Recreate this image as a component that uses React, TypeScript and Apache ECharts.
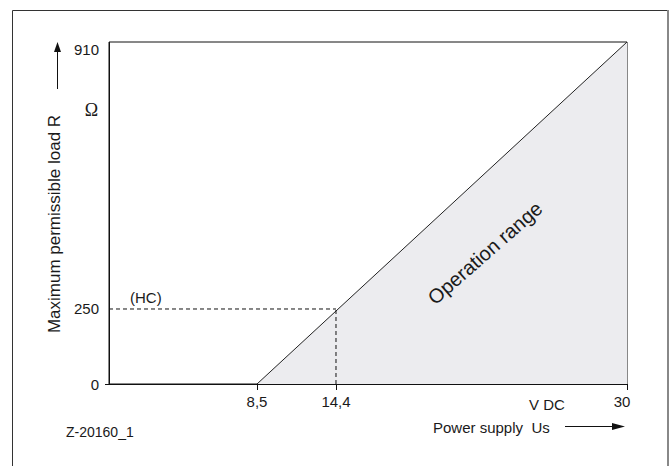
import React, { useEffect, useRef } from "react";
import * as echarts from "echarts";

// ---- data ----
const xTickValues = [8.5, 14.4, 30];
const yTickValues = [0, 250, 910];
const rangeBoundary = [
  [8.5, 0],
  [30, 910],
];
const hcPoint = [14.4, 250];
const xTitle = "Power supply  Us";
const yTitle = "Maximum permissible load R";
const xUnit = "V DC";
const yUnit = "Ω";
const hcLabel = "(HC)";
const areaLabel = "Operation range";
const drawingNo = "Z-20160_1";

const FONT = "'Liberation Sans', Arial, Helvetica, sans-serif";
const INK = "#1a1a1a";

const fmt = (v: number) => String(v).replace(".", ",");

export default function App() {
  const ref = useRef<HTMLDivElement>(null);

  useEffect(() => {
    if (!ref.current) return;
    const chart = echarts.init(ref.current, undefined, { renderer: "svg" });

    const hLine = [
      [0, hcPoint[1]],
      [hcPoint[0], hcPoint[1]],
    ];
    const vLine = [
      [hcPoint[0], 0],
      [hcPoint[0], hcPoint[1]],
    ];

    const option: any = {
      animation: false,
      backgroundColor: "#fff",
      grid: {
        left: 109,
        top: 42,
        right: 45,
        bottom: 82,
        show: true,
        borderColor: "#111",
        borderWidth: 1,
        backgroundColor: "transparent",
      },
      xAxis: {
        type: "value",
        min: 0,
        max: 30,
        breaks: [
          { start: 3, end: 3.566, gap: 0 },
          { start: 10.5, end: 12.165, gap: 0 },
        ],
        breakArea: { show: false },
        splitLine: { show: false },
        axisLine: { show: true, onZero: false, lineStyle: { color: "#111", width: 1 } },
        axisTick: {
          show: true,
          customValues: xTickValues,
          length: 6,
          inside: false,
          lineStyle: { color: "#111", width: 1 },
        },
        axisLabel: {
          customValues: xTickValues,
          margin: 10,
          fontSize: 15,
          fontFamily: FONT,
          color: INK,
          formatter: (v: number) => (v === 30 ? "{r|30}" : fmt(v)),
          rich: {
            r: { fontSize: 15, fontFamily: FONT, color: INK, padding: [0, 10, 0, 0] },
          },
        },
      },
      yAxis: {
        type: "value",
        min: 0,
        max: 910,
        breaks: [{ start: 100, end: 164.6, gap: 0 }],
        breakArea: { show: false },
        splitLine: { show: false },
        axisLine: { show: true, lineStyle: { color: "#111", width: 1 } },
        axisTick: {
          show: true,
          customValues: [0],
          length: 4,
          lineStyle: { color: "#111", width: 1 },
        },
        axisLabel: {
          customValues: yTickValues,
          margin: 10,
          fontSize: 15,
          fontFamily: FONT,
          color: INK,
          formatter: (v: number) => (v === 910 ? "{t|910}" : fmt(v)),
          rich: {
            t: { fontSize: 15, fontFamily: FONT, color: INK, padding: [14, 0, 0, 0] },
          },
        },
        name: yTitle,
        nameLocation: "middle",
        nameRotate: 90,
        nameGap: 40,
        nameTextStyle: { fontSize: 17, fontFamily: FONT, color: INK, padding: [0, 22, 0, 0] },
      },
      series: [
        {
          type: "line",
          name: "Operation range",
          data: rangeBoundary,
          symbol: "none",
          lineStyle: { color: "#222", width: 1 },
          areaStyle: { color: "#ececef", opacity: 1 },
          z: 2,
        },
        {
          type: "line",
          name: "HC horizontal",
          data: hLine,
          symbol: "none",
          lineStyle: { color: "#111", width: 1, type: [4, 3] },
          z: 3,
        },
        {
          type: "line",
          name: "HC vertical",
          data: vLine,
          symbol: "none",
          lineStyle: { color: "#111", width: 1, type: [4, 3] },
          z: 3,
        },
      ],
      graphic: {
        z: 100,
        elements: [
          // outer frame
          { type: "line", shape: { x1: 12.5, y1: 10.5, x2: 12.5, y2: 470 }, style: { stroke: "#333", lineWidth: 1 } },
          { type: "line", shape: { x1: 12.5, y1: 10.5, x2: 668, y2: 10.5 }, style: { stroke: "#333", lineWidth: 1 } },
          { type: "line", shape: { x1: 668, y1: 10, x2: 668, y2: 470 }, style: { stroke: "#888", lineWidth: 2 } },
          // y arrow
          { type: "line", shape: { x1: 57.5, y1: 50, x2: 57.5, y2: 89 }, style: { stroke: "#111", lineWidth: 1 } },
          { type: "polygon", shape: { points: [[57.5, 42], [54, 52], [61, 52]] }, style: { fill: "#111" } },
          // x arrow
          { type: "line", shape: { x1: 565, y1: 426.5, x2: 615, y2: 426.5 }, style: { stroke: "#111", lineWidth: 1 } },
          { type: "polygon", shape: { points: [[625, 426.5], [612, 423], [612, 430]] }, style: { fill: "#111" } },
          // texts
          {
            type: "text",
            x: 91.5,
            y: 110,
            style: { text: yUnit, align: "center", verticalAlign: "middle", fontSize: 18, fontFamily: "'Liberation Serif', 'Times New Roman', serif", fill: INK },
          },
          {
            type: "text",
            x: 547,
            y: 404,
            style: { text: xUnit, align: "center", verticalAlign: "middle", fontSize: 15, fontFamily: FONT, fill: INK },
          },
          {
            type: "text",
            x: 433,
            y: 427,
            style: { text: xTitle, align: "left", verticalAlign: "middle", fontSize: 15, fontFamily: FONT, fill: INK },
          },
          {
            type: "text",
            x: 66,
            y: 432,
            style: { text: drawingNo, align: "left", verticalAlign: "middle", fontSize: 14, fontFamily: FONT, fill: INK },
          },
          {
            type: "text",
            x: 130,
            y: 297,
            style: { text: hcLabel, align: "left", verticalAlign: "middle", fontSize: 15, fontFamily: FONT, fill: INK },
          },
          {
            type: "text",
            x: 485,
            y: 253,
            rotation: 0.72,
            z: 100,
            style: { text: areaLabel, align: "center", verticalAlign: "middle", fontSize: 20, fontFamily: FONT, fill: INK },
          },
        ],
      },
    };

    chart.setOption(option);
    return () => chart.dispose();
  }, []);

  return (
    <div
      ref={ref}
      style={{ position: "fixed", left: 0, top: 0, width: 672, height: 466, background: "#fff" }}
    />
  );
}
